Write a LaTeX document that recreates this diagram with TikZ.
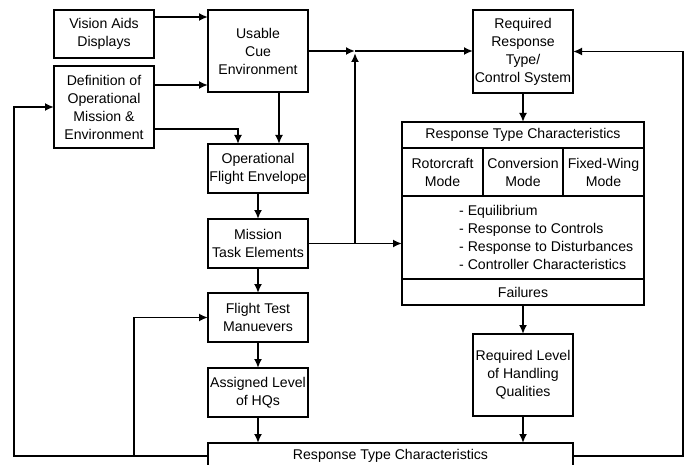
\documentclass[tikz,border=0pt]{standalone}
\usepackage{fontspec}
\setmainfont{Liberation Sans}
\usetikzlibrary{positioning, arrows.meta}
\tikzset{block/.style = {rectangle, line width=1.8pt, minimum width=100pt, inner xsep=1pt, inner ysep=0pt, outer sep=0pt, align=center, draw=black}}
\tikzset{cell/.style = {rectangle, line width=1.8pt, inner sep=0pt, outer sep=0pt, align=center, draw=black}}
\tikzset{arrow/.style = {line width=1.8pt, -{Latex[length=9pt,width=8pt]}}}

\begin{document}
\begin{tikzpicture}[x=1pt, y=-1pt, font=\fontsize{14.1}{18}\selectfont]
	\clip (0,0) rectangle (690,465);
	\node (vis) 	[block, minimum height=48pt] at (104,34) 			{Vision Aids\\Displays};
	\node (def) 	[block, minimum height=82pt, below=8pt of vis] 	{Definition of\\Operational\\Mission \&\\Environment};
	\node (cue) 	[block, minimum height=82pt] at (258,51) 			{Usable\\Cue\\Environment};
	\node (ofe) 	[block, minimum height=49pt, below=52pt of cue] 	{Operational\\Flight Envelope};
	\node (mte) 	[block, minimum height=49pt, below=26pt of ofe] 	{Mission\\Task Elements};
	\node (ftm) 	[block, minimum height=49pt, below=25pt of mte] 	{Flight Test\\Manuevers};
	\node (alh) 	[block, minimum height=49pt, below=26pt of ftm] 	{Assigned Level\\of HQs};
	
	\node (rrt) 	[block, minimum height=83pt] at (523,51.5) 		{Required\\Response\\Type/\\Control System};
	\node (head) 	[cell, minimum width=242pt, minimum height=26pt, below=29pt of rrt] {Response Type Characteristics};
	\node (conv) 	[cell, minimum width=80pt, minimum height=48pt, below=0pt of head] 	{Conversion\\Mode};
	\node (rot) 	[cell, minimum width=81pt, minimum height=48pt, left=0pt of conv] 	{Rotorcraft\\Mode};
	\node (fix) 	[cell, minimum width=81pt, minimum height=48pt, right=0pt of conv] 	{Fixed-Wing\\Mode};
	\node (list) 	[cell, minimum width=242pt, minimum height=83pt, below=0pt of conv] {};
	\node (listtxt) [anchor=west, align=left, inner sep=0pt] at ([xshift=57pt]list.west) {- Equilibrium\\- Response to Controls\\- Response to Disturbances\\- Controller Characteristics};
	\node (fail) 	[cell, minimum width=242pt, minimum height=26pt, below=0pt of list] {Failures};
	\node (rlhq) 	[block, minimum height=82pt, below=29pt of fail] 	{Required Level\\of Handling\\Qualities};
	\node (bot) 	[cell, minimum width=365pt, minimum height=26pt, anchor=north] at (390.5,443) {Response Type Characteristics};
	
	\draw [arrow] ([yshift=-7pt]vis.north east) -- ([yshift=-7pt]cue.north west);
	\coordinate (d1) at ([yshift=-19pt]def.north east);
	\draw [arrow] (d1) -- (d1 -| cue.west);
	\draw [arrow] ([yshift=19pt]def.south east) -| ([xshift=-20pt]ofe.north);
	\draw [arrow] ([xshift=21pt]cue.south) -- ([xshift=21pt]ofe.north);
	\draw [arrow] (ofe) 	-- (mte);
	\draw [arrow] (mte) 	-- (ftm);
	\draw [arrow] (ftm) 	-- (alh);
	\draw [arrow] (alh) 	-- (alh |- bot.north);
	
	\coordinate (jn) at ([xshift=47pt]cue.east);
	\draw [arrow] (cue.east) 	-- (jn);
	\draw [arrow] (mte.east) 	-- (mte.east -| list.west);
	\draw [arrow] (mte.east -| jn) -- ([yshift=-2pt]jn);
	\draw [arrow] (jn) 		-- (jn -| rrt.west);
	
	\draw [arrow] (rrt) 	-- (head);
	\draw [arrow] (fail) 	-- (rlhq);
	\draw [arrow] (rlhq) 	-- (rlhq |- bot.north);
	
	\draw [arrow] (bot.east) 	-- ++(110pt,0) |- (rrt.east);
	\draw [arrow] (bot.west) 	-- ++(-194pt,0) |- (def.west);
	\draw [arrow] ([xshift=-74pt]bot.west) |- (ftm.west);
\end{tikzpicture}
\end{document}
